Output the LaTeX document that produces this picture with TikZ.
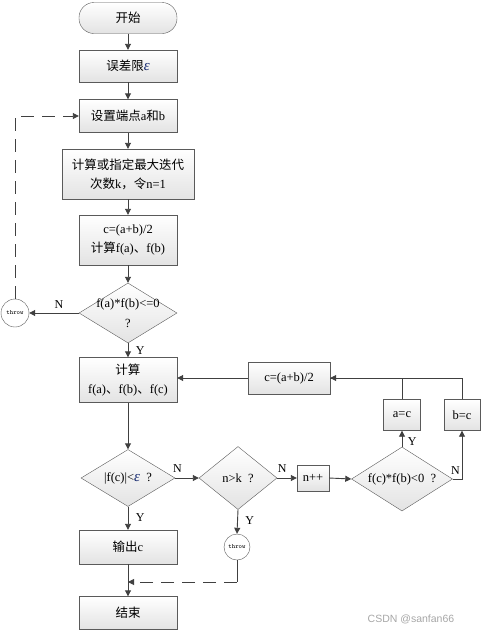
\documentclass[tikz,border=0pt]{standalone}
\usepackage{fontspec}
\setmainfont{Liberation Serif}
\newfontfamily\cjk{Noto Sans CJK SC}
\newfontfamily\wmfont{Liberation Sans}
\usetikzlibrary{shapes.geometric,arrows.meta}
\definecolor{edgegray}{HTML}{5A5A5A}
\definecolor{linegray}{HTML}{404040}
\definecolor{epsblue}{HTML}{14286E}
\begin{document}
\begin{tikzpicture}[x=1pt,y=-1pt,
  every node/.style={font=\fontsize{12.5}{19}\selectfont},
  box/.style={draw=edgegray, top color=white, bottom color=gray!22,
    minimum width=98pt, minimum height=32pt, align=center, inner sep=1pt},
  cond/.style={diamond, draw=edgegray, top color=white, bottom color=gray!22,
    inner sep=0pt, minimum width=#1, minimum height=60pt},
  throwc/.style={circle, draw=edgegray, fill=white, inner sep=0pt,
    minimum size=#1, font=\ttfamily\fontsize{6.5}{7}\selectfont},
  flow/.style={draw=linegray, line width=0.9pt, -{Triangle[length=6pt,width=6pt]}},
  back/.style={flow, dash pattern=on 13pt off 8pt},
  lbl/.style={font=\fontsize{12}{14}\selectfont}]
  \def\zh#1{{\cjk #1}}
  \def\eps{{\color{epsblue}\fontsize{15}{15}\selectfont\itshape ε}}
  \useasboundingbox (0,0) rectangle (481,633);

  % main column
  \node[box, rounded corners=15pt, minimum height=31pt] (start) at (128,18) {\zh{开始}};
  \node[box] (eps) at (128,66) {\zh{误差限}\eps};
  \node[box, minimum height=33pt] (ends) at (128,116) {\zh{设置端点}a\zh{和}b};
  \node[box, minimum width=132pt, minimum height=50pt] (kmax) at (128,174)
    {\zh{计算或指定最大迭代}\\\zh{次数}k\zh{，令}n=1};
  \node[box, minimum height=50pt] (mid) at (128,240) {c=(a+b)/2\\\zh{计算}f(a)\zh{、}f(b)};
  \node[cond=98pt, label={[align=center,font=\fontsize{12.5}{20}\selectfont]center:f(a)*f(b)<=0\\?}]
    (d1) at (128,313) {};
  \node[throwc=28pt] (throw1) at (15,313) {throw};
  \node[box, minimum height=45pt] (calc) at (128,380) {\zh{计算}\\f(a)\zh{、}f(b)\zh{、}f(c)};
  \node[cond=94pt, minimum height=57pt, label={center:|f(c)|<\eps\ \ ?}] (d2) at (128,478) {};
  \node[box, minimum height=34pt] (out) at (128,547) {\zh{输出}c};
  \node[box, minimum height=33pt] (end) at (128,613) {\zh{结束}};

  % right part
  \node[cond=78pt, minimum height=63pt, label={center:n>k\ \ ?}] (d3) at (238,478) {};
  \node[throwc=26pt] (throw2) at (237,547) {throw};
  \node[box, minimum width=32pt, minimum height=26pt] (npp) at (313,478) {n++};
  \node[cond=101pt, minimum height=64pt, label={center:f(c)*f(b)<0\ \ ?}] (d4) at (402,479) {};
  \node[box, minimum width=37pt, minimum height=31pt] (ac) at (402,415) {a=c};
  \node[box, minimum width=36pt, minimum height=31pt] (bc) at (462,415) {b=c};
  \node[box, minimum width=82pt, minimum height=32pt] (cmid) at (289,378) {c=(a+b)/2};

  \draw[flow] (start) -- (eps);
  \draw[flow] (eps) -- (ends);
  \draw[flow] (ends) -- (kmax);
  \draw[flow] (kmax) -- (mid);
  \draw[flow] (mid) -- (d1);
  \draw[flow] (d1) -- (calc) node[lbl, pos=0.55, right=4pt] {Y};
  \draw[flow] (d1.west) -- (throw1) node[lbl, pos=0.4, above=1pt] {N};
  \draw[back] (throw1.north) |- (ends.west);
  \draw[flow] (calc) -- (d2);
  \draw[flow] (d2.east) -- (d3.west) node[lbl, pos=0.1, above=2pt] {N};
  \draw[flow] (d3.east) -- (npp.west) node[lbl, pos=0.25, above=2pt] {N};
  \draw[flow] (npp.east) -- (d4.west);
  \draw[flow] (d4.north) -- (ac.south) node[lbl, pos=0.3, right=2pt] {Y};
  \draw[flow] (d4.east) -| (bc.south) node[lbl, pos=0.15, above=1pt] {N};
  \draw[draw=linegray, line width=0.9pt] (ac.north) |- (cmid.east);
  \draw[flow] (bc.north) |- (cmid.east);
  \draw[flow] (cmid.west) -- (cmid.west -| calc.east);
  \draw[flow] (d2.south) -- (out.north) node[lbl, pos=0.45, right=4pt] {Y};
  \draw[flow] (out) -- (end);
  \draw[flow] (d3.south) -- (throw2.north) node[lbl, pos=0.45, right=4pt] {Y};
  \coordinate (j) at (237,582);
  \draw[draw=linegray, line width=0.9pt] (throw2.south) -- (j);
  \draw[back] (j) -- (j -| out.south);

  \node[text=gray!70, font=\wmfont\fontsize{10.5}{12}\selectfont] (mark) at (411,619) {CSDN @sanfan66};
\end{tikzpicture}
\end{document}
